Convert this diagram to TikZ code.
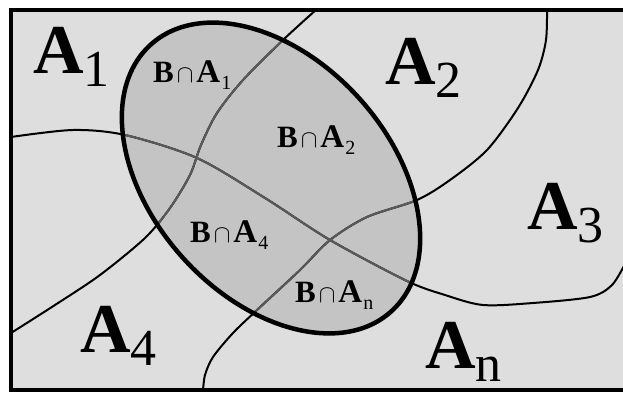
\documentclass[tikz,border=0pt]{standalone}
\usepackage{fontspec}
\setmainfont{Liberation Serif}
\definecolor{paper}{RGB}{222,222,222}
\definecolor{setb}{RGB}{196,196,196}
\definecolor{inner}{RGB}{90,90,90}
\tikzset{
  bigset/.style={inner sep=0pt, anchor=base west, font=\fontsize{70}{70}\selectfont\bfseries},
  cutset/.style={inner sep=0pt, anchor=base west, font=\fontsize{31}{31}\selectfont},
  border/.style={line width=2pt},
  setshape/.style={shift={(271,178)}, rotate=-48},
}
\newcommand\setname[1]{A\raisebox{-13pt}{\fontsize{52}{52}\selectfont\mdseries #1}}
\newcommand\cutname[1]{\textbf{B}\kern3pt{\fontsize{40}{40}\selectfont$\cap$}\kern3pt{\fontsize{33}{33}\selectfont\textbf{A}}\kern1pt\raisebox{-7pt}{\fontsize{20}{20}\selectfont #1}}
\newcommand\partitionlines[1]{
  \draw[border,#1] plot[smooth] coordinates {(317,9) (283,40) (243,80) (217,113) (201,145) (190,175) (170,208) (145,238) (100,275) (55,305) (11,333)};
  \draw[border,#1] plot[smooth] coordinates {(11,137) (73,130) (125,135) (197,158) (265,198) (330,240) (407,281) (445,295) (483,305) (533,303) (590,297) (612,285) (626,262)};
  \draw[border,#1] plot[smooth] coordinates {(547,9) (546,40) (538,70) (518,108) (487,150) (450,180) (417,200) (367,217) (330,240) (300,270) (257,310) (233,333) (213,357) (205,375) (203,391)};
}
\begin{document}
\begin{tikzpicture}[x=1pt,y=-1pt]
\useasboundingbox (0,0) rectangle (623,393);
% frame and set B
\draw[line width=4pt, fill=paper] (11,10.5) rectangle (640,390);
\fill[setb, setshape] (0,0) ellipse [x radius=179.6, y radius=118.9];
\partitionlines{black}
\begin{scope}
\clip[setshape] (0,0) ellipse [x radius=179.6, y radius=118.9];
\partitionlines{inner}
\end{scope}
\draw[line width=4.5pt, setshape] (0,0) ellipse [x radius=179.6, y radius=118.9];
% labels
\node[bigset] (a1) at (33,74) {\setname{1}};
\node[bigset] (a2) at (385,85) {\setname{2}};
\node[bigset] (a3) at (527,229) {\setname{3}};
\node[bigset] (a4) at (80,352) {\setname{4}};
\node[bigset] (an) at (425,368) {\setname{n}};
\node[cutset] (b1) at (153,83) {\cutname{1}};
\node[cutset] (b2) at (277,147) {\cutname{2}};
\node[cutset] (b4) at (190,242) {\cutname{4}};
\node[cutset] (bn) at (295,302) {\cutname{n}};
\end{tikzpicture}
\end{document}
